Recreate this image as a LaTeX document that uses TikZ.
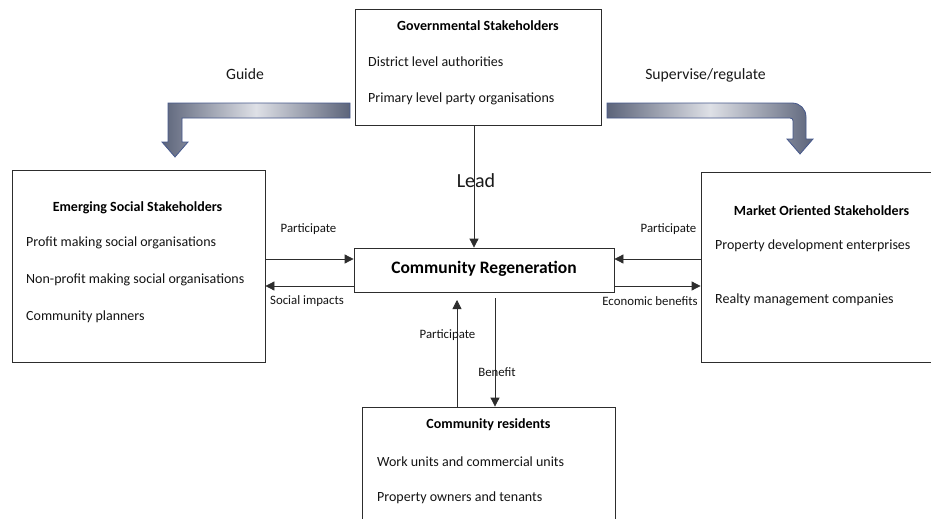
\documentclass[tikz,border=0pt]{standalone}
\usepackage{fontspec}
\setmainfont{Carlito}
\usetikzlibrary{arrows.meta,calc}
\definecolor{adk}{RGB}{92,100,122}
\definecolor{alt}{RGB}{222,224,230}
\definecolor{aln}{RGB}{70,88,140}
\definecolor{lnc}{RGB}{45,45,45}
\begin{document}
\begin{tikzpicture}[x=1pt,y=-1pt,
  box/.style={draw=lnc,line width=0.8pt,rectangle,inner sep=0},
  txt/.style={anchor=west,inner sep=0,font=\fontsize{14}{16}\selectfont,text=black!92},
  ttl/.style={inner sep=0,font=\fontsize{14}{16}\selectfont\bfseries,text=black},
  lbl/.style={inner sep=0,font=\fontsize{12.8}{15}\selectfont,text=black!92},
  big/.style={inner sep=0,font=\fontsize{15.7}{18}\selectfont,text=black!90},
  conn/.style={draw=lnc,line width=0.8pt,-{Triangle[length=9pt,width=9pt]}},
  blk/.style={left color=adk,right color=adk,middle color=alt,draw=aln,line width=0.8pt}]
\useasboundingbox (0,0) rectangle (931,519);
\clip (0,0) rectangle (931,519);
\fill[white] (0,0) rectangle (931,519);

% boxes
\node[box,minimum width=246,minimum height=116] (gov) at (478,67) {};
\node[box,minimum width=253,minimum height=192] (esl) at (138.5,266) {};
\node[box,minimum width=259,minimum height=190] (mos) at (830.5,267) {};
\node[box,minimum width=253,minimum height=153] (res) at (488.5,483.5) {};
\node[box,minimum width=260,minimum height=44] (cr) at (484,270) {};

% texts
\node[ttl] (govt) at (478,26) {Governmental Stakeholders};
\node[txt] (gov1) at (368,62) {District level authorities};
\node[txt] (gov2) at (368,99) {Primary level party organisations};

\node[ttl] (eslt) at (137.5,208) {Emerging Social Stakeholders};
\node[txt] (esl1) at (26,243) {Profit making social organisations};
\node[txt] (esl2) at (26,280) {Non-profit making social organisations};
\node[txt] (esl3) at (26,317) {Community planners};

\node[ttl] (most) at (821.5,211) {Market Oriented Stakeholders};
\node[txt] (mos1) at (715,246) {Property development enterprises};
\node[txt] (mos2) at (715,300) {Realty management companies};

\node[ttl] (rest) at (488.5,425) {Community residents};
\node[txt] (res1) at (377,462) {Work units and commercial units};
\node[txt] (res2) at (377,498) {Property owners and tenants};

\node[inner sep=0,font=\fontsize{17.5}{20}\selectfont\bfseries] (crt) at (484,268.5) {Community Regeneration};

% block arrows
\shade[blk] (350,103) -- (168,103) -- (168,142) -- (162,142) -- (175,157) -- (188,142) -- (182,142) -- (182,118) -- (350,118) -- cycle;
\shade[blk] (607,103) -- (792,103) .. controls (800,103) and (806,109) .. (806,117) -- (806,139) -- (813,139) -- (800,154) -- (787,139) -- (793,139) -- (793,121) .. controls (793,119) and (792,118) .. (790,118) -- (607,118) -- cycle;
\node[big] (guide) at (245,74) {Guide};
\node[big] (sup) at (705.5,75) {Supervise/regulate};

% connectors
\coordinate (lx) at (474,0);
\coordinate (ya) at (0,259);
\coordinate (yb) at (0,286);
\coordinate (upx) at (457,300);
\coordinate (dnx) at (495,298);
\draw[conn] (gov.south -| lx) -- (cr.north -| lx);
\node[inner sep=0,font=\fontsize{20}{22}\selectfont,text=black!90] (lead) at (476,181) {Lead};

\draw[conn] (esl.east |- ya) -- (cr.west |- ya);
\draw[conn] (cr.west |- yb) -- (esl.east |- yb);
\draw[conn] (mos.west |- ya) -- (cr.east |- ya);
\draw[conn] (cr.east |- yb) -- (mos.west |- yb);
\draw[conn] (res.north -| upx) -- (upx);
\draw[conn] (dnx) -- (res.north -| dnx);

\node[lbl] (p1) at (308.5,229) {Participate};
\node[lbl] (si) at (307,301) {Social impacts};
\node[lbl] (p2) at (668.5,229) {Participate};
\node[lbl] (eb) at (650,301) {Economic benefits};
\node[lbl] (p3) at (447.5,335) {Participate};
\node[lbl] (bn) at (497,372) {Benefit};
\end{tikzpicture}
\end{document}
